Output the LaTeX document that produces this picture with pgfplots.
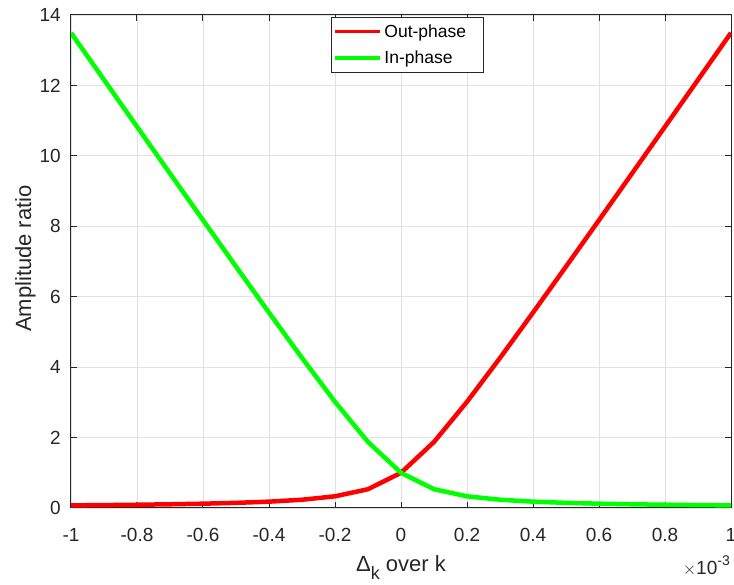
\documentclass[border=0pt]{standalone}
\usepackage{pgfplots}
\pgfplotsset{compat=1.18}
\usepackage{fontspec}
\setmainfont{Liberation Sans}

\definecolor{axisgray}{RGB}{38,38,38}
\definecolor{gridgray}{RGB}{225,225,225}
\definecolor{outred}{RGB}{255,0,0}
\definecolor{ingreen}{RGB}{0,255,0}
\newcommand{\tickfont}{\fontsize{19}{22}\selectfont}
\newcommand{\labelfont}{\fontsize{22}{26}\selectfont}

\begin{document}
\begin{tikzpicture}
\begin{axis}[
  name=ax,
  scale only axis, width=660pt, height=493pt,
  xmin=-1, xmax=1, ymin=0, ymax=14,
  xtick={-1,-0.8,-0.6,-0.4,-0.2,0,0.2,0.4,0.6,0.8,1},
  xticklabels={-1,-0.8,-0.6,-0.4,-0.2,0,0.2,0.4,0.6,0.8,1},
  ytick={0,2,4,6,8,10,12,14},
  yticklabels={0,2,4,6,8,10,12,14},
  tick align=inside, major tick length=6pt,
  grid=major, major grid style={gridgray, line width=0.8pt},
  axis line style={axisgray, line width=1pt},
  every tick/.style={axisgray, line width=1pt},
  tick label style={font=\tickfont, text=axisgray, inner sep=0pt},
  xticklabel style={anchor=north, yshift=-20pt},
  yticklabel style={anchor=east, xshift=-10pt},
  xlabel={Δ\raisebox{-8pt}{\fontsize{18}{20}\selectfont k} over k},
  ylabel={Amplitude ratio},
  label style={font=\labelfont, text=axisgray},
  xlabel style={at={(axis description cs:0.5,-0.1298)}, anchor=base, inner sep=0pt},
  ylabel style={at={(axis description cs:-0.0606,0.506)}, anchor=base, rotate=0, inner sep=0pt},
  legend style={
    at={(0.394,0.996)}, anchor=north west,
    draw=axisgray, line width=0.8pt,
    inner xsep=2pt, inner ysep=4.5pt,
    row sep=7.5pt,
    font=\fontsize{17.5}{20}\selectfont, text=black,
    nodes={inner sep=2.5pt},
    cells={anchor=west},
  },
  legend image code/.code={\draw[#1, line width=3.5pt] (0pt,0pt) -- (45pt,0pt);},
]
% amplitude ratio of the out-of-phase mode
\addplot[outred, line width=4.5pt, line join=round] coordinates {
  (-1.0,0.0741) (-0.9,0.0822) (-0.8,0.0924) (-0.7,0.1053) (-0.6,0.1223)
  (-0.5,0.1459) (-0.4,0.1802) (-0.3,0.2347) (-0.2,0.3316) (-0.1,0.5333)
  (0.0,1.0000) (0.1,1.8753) (0.2,3.0156) (0.3,4.2607) (0.4,5.5483)
  (0.5,6.8559) (0.6,8.1744) (0.7,9.4993) (0.8,10.8283) (0.9,12.1602)
  (1.0,13.4941)
};
\addlegendentry{Out-phase\hspace*{13pt}}
% amplitude ratio of the in-phase mode
\addplot[ingreen, line width=4.5pt, line join=round] coordinates {
  (-1.0,13.4941) (-0.9,12.1602) (-0.8,10.8283) (-0.7,9.4993) (-0.6,8.1744)
  (-0.5,6.8559) (-0.4,5.5483) (-0.3,4.2607) (-0.2,3.0156) (-0.1,1.8753)
  (0.0,1.0000) (0.1,0.5333) (0.2,0.3316) (0.3,0.2347) (0.4,0.1802)
  (0.5,0.1459) (0.6,0.1223) (0.7,0.1053) (0.8,0.0924) (0.9,0.0822)
  (1.0,0.0741)
};
\addlegendentry{In-phase\hspace*{13pt}}
\end{axis}
% exponent of the x axis
\node[text=axisgray, anchor=base east, inner sep=0pt]
  at ([xshift=-1pt, yshift=-67pt]ax.south east)
  {\tickfont$\times$10\raisebox{9pt}{\fontsize{14}{16}\selectfont -3}};
\pgfresetboundingbox
\path (-71pt,-77pt) rectangle (663pt,508pt);
\end{tikzpicture}
\end{document}
